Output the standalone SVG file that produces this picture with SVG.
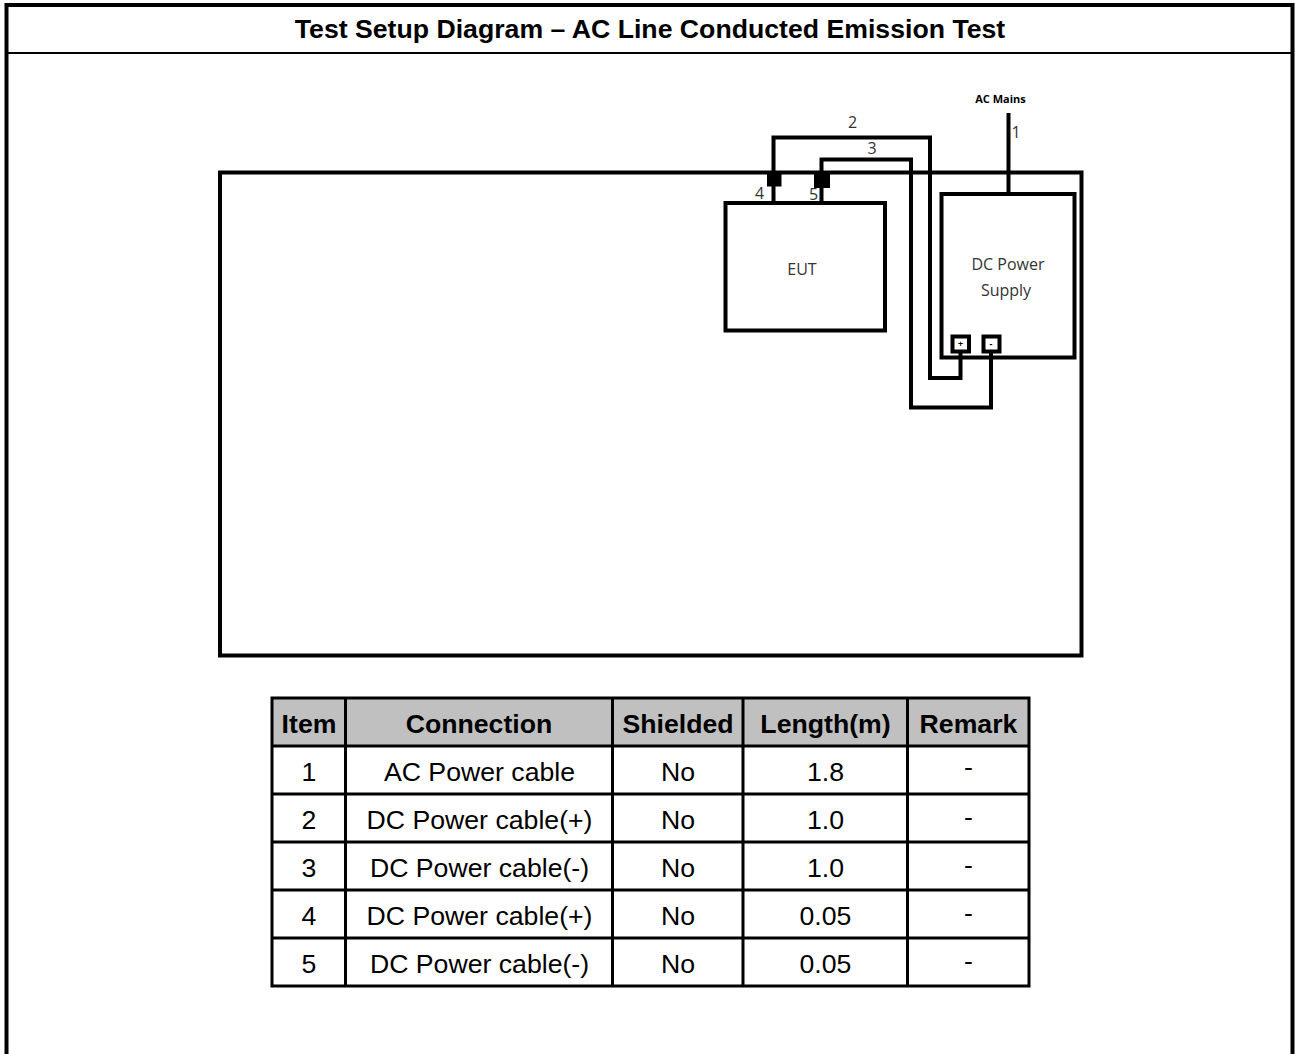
<svg xmlns="http://www.w3.org/2000/svg" width="1295" height="1054" viewBox="0 0 1295 1054">
<style>
.l{fill:none;stroke:#000;stroke-width:4;stroke-linejoin:miter}
.t{font-family:"Liberation Sans",Arial,sans-serif;font-size:26.67px;fill:#000;text-anchor:middle}
.h{font-weight:bold}
.d{font-family:"Open Sans","Noto Sans",sans-serif;font-size:16px;fill:#333;text-anchor:middle}
</style>
<rect width="1295" height="1054" fill="#fff"/>
<g id="frame">
<path d="M6.500 1054V5H1292.500V1054" fill="none" stroke="#000" stroke-width="4"/>
<path d="M6 53H1293" stroke="#000" stroke-width="2"/>
<text class="t h" x="650" y="38">Test Setup Diagram – AC Line Conducted Emission Test</text>
</g>
<g id="table-boundary"><rect class="l" x="220" y="172.500" width="861.500" height="483"/></g>
<g id="connectors">
<path class="l" d="M1008.500 113V193"/>
<path class="l" d="M773.500 203V137.500H930V378H960.500V351"/>
<path class="l" d="M821.500 203V159.500H911V407.500H991V351"/>
</g>
<g id="eut">
<rect class="l" x="725.500" y="203" width="159.500" height="127.500"/>
<text class="d" x="802" y="275">EUT</text>
</g>
<g id="psu">
<rect class="l" x="941.500" y="194" width="133" height="163.500"/>
<text class="d" x="1008" y="270">DC Power</text>
<text class="d" x="1006" y="296">Supply</text>
</g>
<g id="plus"><rect x="952.500" y="336.500" width="16.500" height="15" fill="#fff" stroke="#000" stroke-width="4"/><text x="960.500" y="347" font-family="Open Sans,sans-serif" font-size="9" font-weight="bold" text-anchor="middle">+</text></g>
<g id="minus"><rect x="983.500" y="336.500" width="16" height="15" fill="#fff" stroke="#000" stroke-width="4"/><text x="991" y="347" font-family="Open Sans,sans-serif" font-size="9" font-weight="bold" text-anchor="middle">-</text></g>
<g id="port4"><rect x="767" y="172" width="14.500" height="14.500"/></g>
<g id="port5"><rect x="814" y="172" width="16" height="16"/></g>
<g id="labels">
<text x="1000.500" y="103" font-family="Open Sans,sans-serif" font-size="11" font-weight="bold" text-anchor="middle">AC Mains</text>
<text class="d" x="852.500" y="128">2</text>
<text class="d" x="872" y="154">3</text>
<text class="d" x="1016" y="138">1</text>
<text class="d" x="759.500" y="199">4</text>
<text class="d" x="813.500" y="200">5</text>
</g>
<g id="legend">
<rect x="272" y="698" width="757" height="48" fill="#c0c0c0"/>
<path d="M272 698H1029V986H272ZM345.500 698V986M612.500 698V986M743 698V986M907.500 698V986M272 746H1029M272 794H1029M272 842H1029M272 890H1029M272 938H1029" fill="none" stroke="#000" stroke-width="3"/>
<g class="t h"><text x="309" y="733">Item</text><text x="479" y="733">Connection</text><text x="678" y="733">Shielded</text><text x="825.500" y="733">Length(m)</text><text x="968.500" y="733">Remark</text></g>
<g class="t">
<text x="309" y="781">1</text><text x="479.500" y="781">AC Power cable</text><text x="678" y="781">No</text><text x="825.500" y="781">1.8</text><text x="968.500" y="776">-</text>
<text x="309" y="829">2</text><text x="479.500" y="829">DC Power cable(+)</text><text x="678" y="829">No</text><text x="825.500" y="829">1.0</text><text x="968.500" y="826">-</text>
<text x="309" y="877">3</text><text x="479.500" y="877">DC Power cable(-)</text><text x="678" y="877">No</text><text x="825.500" y="877">1.0</text><text x="968.500" y="874">-</text>
<text x="309" y="925">4</text><text x="479.500" y="925">DC Power cable(+)</text><text x="678" y="925">No</text><text x="825.500" y="925">0.05</text><text x="968.500" y="922">-</text>
<text x="309" y="973">5</text><text x="479.500" y="973">DC Power cable(-)</text><text x="678" y="973">No</text><text x="825.500" y="973">0.05</text><text x="968.500" y="970">-</text>
</g>
</g>
</svg>
